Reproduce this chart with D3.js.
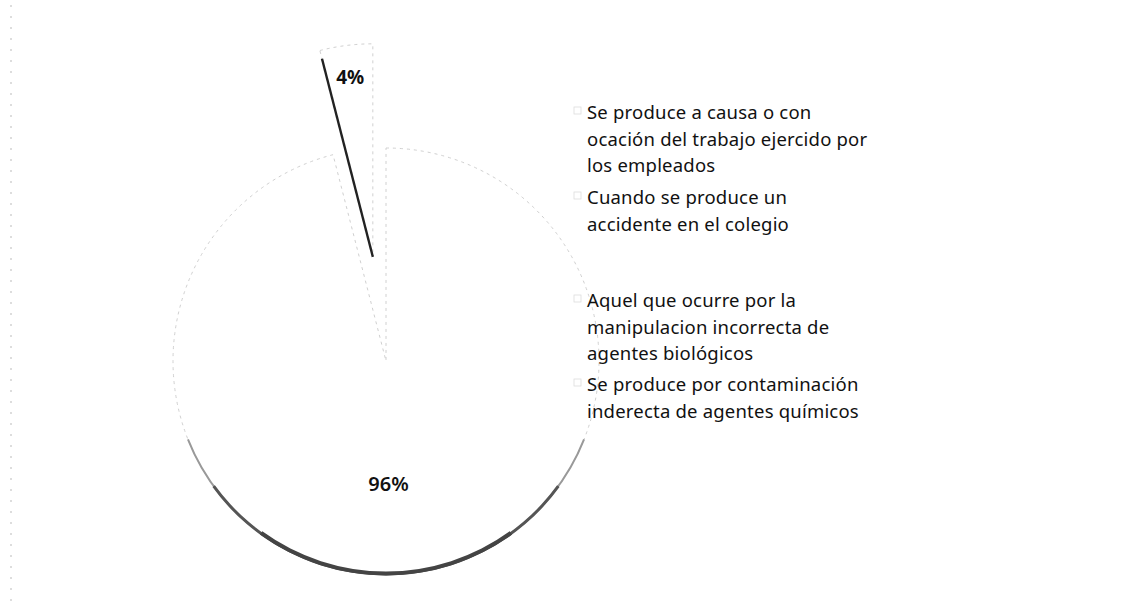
<!DOCTYPE html>
<html>
<head>
<meta charset="utf-8">
<script src="https://cdn.jsdelivr.net/npm/d3@7"></script>
<style>
  body { margin: 0; background: #fff; }
  svg { display: block; }
</style>
</head>
<body>
<div id="chart"></div>
<script>
// data
const categories = [
  ["Se produce a causa o con", "ocación del trabajo ejercido por", "los empleados"],
  ["Cuando se produce un", "accidente en el colegio"],
  ["Aquel que ocurre por la", "manipulacion incorrecta de", "agentes biológicos"],
  ["Se produce por contaminación", "inderecta de agentes químicos"]
];
const values = [96, 0, 0, 4];
const pctLabels = ["96%", "", "", "4%"];

const width = 1136;
const height = 611;
const cx = 386, cy = 361, radius = 213;
const explode = [0, 0, 0, 105];

const svg = d3.select("#chart")
  .append("svg")
  .attr("width", width)
  .attr("height", height)
  .style("font-family", "'Noto Sans', sans-serif");

// faint scanned border on the left
svg.append("line")
  .attr("x1", 11).attr("x2", 11)
  .attr("y1", 5).attr("y2", 606)
  .attr("stroke", "#bbb")
  .attr("stroke-dasharray", "2,9");

const pie = d3.pie().sort(null).value(d => d);
const arcs = pie(values).map((d, i) => ({...d, i}));
const arc = d3.arc().innerRadius(0).outerRadius(radius);

function offset(d) {
  const a = (d.startAngle + d.endAngle) / 2;
  const e = explode[d.i];
  return [e * Math.sin(a), -e * Math.cos(a)];
}

const g = svg.append("g").attr("transform", `translate(${cx},${cy})`);

const slices = g.selectAll("g.slice")
  .data(arcs.filter(d => d.value > 0))
  .join("g")
  .attr("class", "slice")
  .attr("transform", d => `translate(${offset(d)})`);

slices.append("path")
  .attr("d", arc)
  .attr("fill", "#fff")
  .attr("stroke", "#d0d0d0")
  .attr("stroke-width", 1)
  .attr("stroke-dasharray", "3,4");

// dark shadow along the lower rim of the big slice
const rim = d3.arc();
g.append("path")
  .attr("d", rim({innerRadius: radius - 1, outerRadius: radius + 1, startAngle: Math.PI * 0.62, endAngle: Math.PI * 1.38}))
  .attr("fill", "#999");
g.append("path")
  .attr("d", rim({innerRadius: radius - 1.5, outerRadius: radius + 1.5, startAngle: Math.PI * 0.7, endAngle: Math.PI * 1.3}))
  .attr("fill", "#555");
g.append("path")
  .attr("d", rim({innerRadius: radius - 2.5, outerRadius: radius + 1.5, startAngle: Math.PI * 0.8, endAngle: Math.PI * 1.2}))
  .attr("fill", "#444");

// dark left edge of the small slice
const small = arcs[3];
const so = offset(small);
g.append("line")
  .attr("x1", so[0]).attr("y1", so[1])
  .attr("x2", so[0] + radius * 0.96 * Math.sin(small.startAngle))
  .attr("y2", so[1] - radius * 0.96 * Math.cos(small.startAngle))
  .attr("stroke", "#222")
  .attr("stroke-width", 2.4);

// percentage labels
const labelArc = d3.arc().innerRadius(radius * 0.58).outerRadius(radius * 0.58);
const smallLabelArc = d3.arc().innerRadius(radius * 0.85).outerRadius(radius * 0.85);
slices.append("text")
  .attr("transform", d => `translate(${(d.i === 3 ? smallLabelArc : labelArc).centroid(d)})`)
  .attr("text-anchor", "middle")
  .attr("dx", d => d.i === 3 ? 0 : -13)
  .attr("dy", "0.35em")
  .attr("font-size", d => d.i === 3 ? 19 : 20)
  .attr("font-weight", d => d.i === 3 ? "bold" : 600)
  .attr("fill", "#111")
  .text(d => pctLabels[d.i]);

// legend
const legendTop = [119, 204, 307, 391];
const legend = svg.append("g").attr("transform", "translate(587,0)");
const items = legend.selectAll("g")
  .data(categories)
  .join("g")
  .attr("transform", (d, i) => `translate(0,${legendTop[i]})`);

items.append("rect")
  .attr("x", -13).attr("y", -12)
  .attr("width", 7).attr("height", 7)
  .attr("fill", "none")
  .attr("stroke", "#ddd")
  .attr("stroke-width", 0.8);

items.append("text")
  .attr("font-size", 18.5)
  .attr("letter-spacing", 0.2)
  .attr("fill", "#111")
  .selectAll("tspan")
  .data(d => d)
  .join("tspan")
  .attr("x", 0)
  .attr("y", (d, j) => j * 26.5)
  .text(d => d);
</script>
</body>
</html>
